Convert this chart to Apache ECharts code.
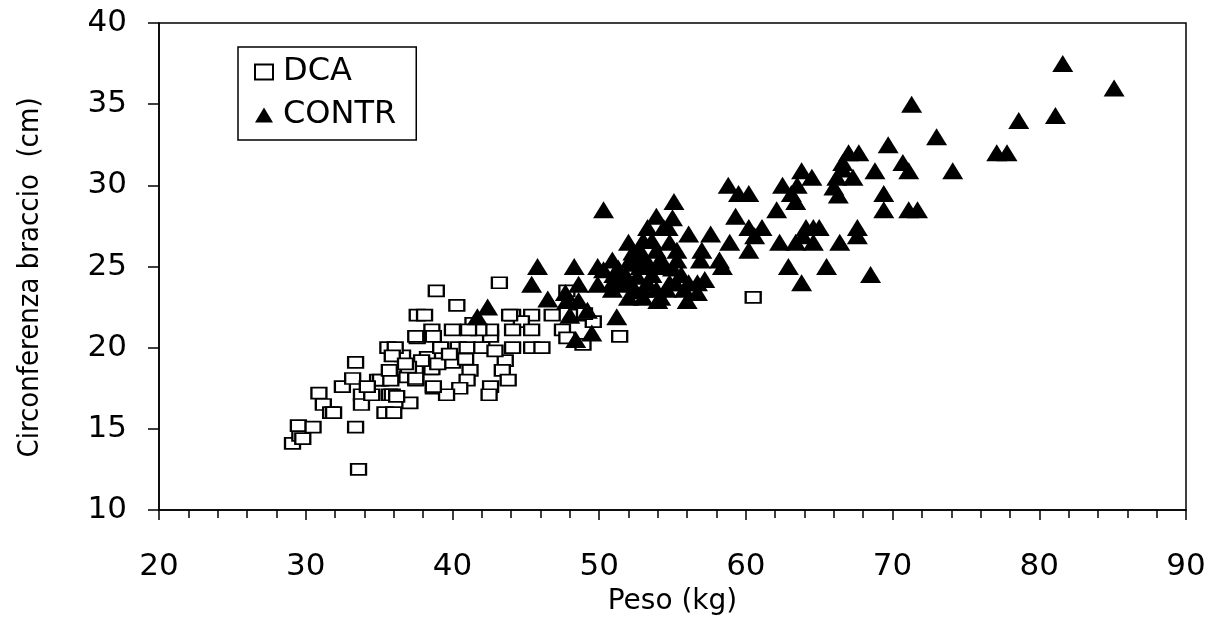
<!DOCTYPE html>
<html>
<head>
<meta charset="utf-8">
<script src="https://cdn.jsdelivr.net/npm/echarts@6/dist/echarts.min.js"></script>
<style>
  html, body { margin: 0; padding: 0; background: #fff; }
  #chart { width: 1221px; height: 624px; }
</style>
</head>
<body>
<div id="chart"></div>
<script>
  // DCA: peso (kg) / circonferenza braccio (cm)
  const dcaPeso = [
    29.1, 29.6, 29.5, 29.8, 30.5, 30.9, 31.2, 31.7, 31.9, 32.5, 33.2, 33.4, 33.8, 33.8, 33.4, 33.6,
    34.5, 34.9, 35.1, 35.8, 35.4, 35.7, 35.9, 35.6, 36.6, 35.7, 37.1, 36.9, 37.5, 37.6, 37.6, 38.1,
    38.5, 38.7, 38.6, 38.3, 38.9, 43.2, 40.3, 40.0, 37.5, 38.7, 39.2, 40.4, 41.0, 42.0, 42.6, 42.6,
    41.4, 44.1, 45.4, 44.7, 44.1, 45.4, 44.1, 45.4, 46.1, 43.6, 43.4, 43.8, 42.6, 42.5, 41.2, 41.0,
    40.5, 39.6, 38.7, 40.0, 38.6, 37.5, 36.2, 36.0, 37.9, 37.0, 41.8, 41.1, 43.9, 46.8, 47.8, 47.5,
    48.5, 49.6, 48.9, 51.4, 47.8, 49.0, 60.5, 36.1, 39.0, 35.9, 39.8, 40.9, 42.9, 36.8, 34.2,
  ];
  const dcaBraccio = [
    14.1, 14.6, 15.2, 14.4, 15.1, 17.2, 16.5, 16.0, 16.0, 17.6, 18.1, 19.1, 17.1, 16.5, 15.1, 12.5,
    17.1, 18.0, 18.0, 18.0, 16.0, 17.1, 17.1, 20.0, 19.5, 18.6, 16.6, 18.2, 18.0, 20.6, 22.0, 22.0,
    18.7, 17.5, 21.1, 19.4, 23.5, 24.0, 22.6, 21.1, 20.7, 20.7, 20.0, 20.0, 20.0, 20.0, 20.7, 21.1,
    21.5, 22.0, 22.0, 21.6, 21.1, 21.1, 20.0, 20.0, 20.0, 19.2, 18.6, 18.0, 17.6, 17.1, 18.6, 18.0,
    17.5, 17.1, 17.6, 19.1, 18.7, 18.1, 17.0, 16.0, 19.2, 18.8, 21.1, 21.1, 22.0, 22.0, 23.5, 21.1,
    22.0, 21.6, 20.2, 20.7, 20.6, 22.1, 23.1, 20.0, 19.0, 19.5, 19.6, 19.3, 19.8, 19.0, 17.6,
  ];

  // CONTR: peso (kg) / circonferenza braccio (cm)
  const contrPeso = [
    41.7, 42.4, 45.8, 45.4, 46.5, 47.7, 48.0, 47.8, 48.3, 48.6, 48.6, 48.4, 49.5, 49.9, 49.9, 50.3,
    50.9, 50.9, 50.9, 51.2, 51.3, 51.6, 52.0, 52.1, 52.3, 52.3, 52.6, 52.1, 52.0, 52.8, 53.0, 53.0,
    53.0, 53.3, 53.3, 53.3, 53.5, 53.9, 53.9, 53.9, 53.9, 54.2, 54.0, 54.4, 54.4, 54.7, 54.8, 55.0,
    55.0, 55.1, 55.3, 55.3, 55.2, 56.0, 56.1, 56.1, 56.7, 56.7, 56.9, 57.0, 57.6, 58.2, 58.4, 58.9,
    58.8, 59.3, 59.5, 60.2, 60.2, 60.2, 60.6, 61.1, 62.1, 62.3, 62.5, 62.9, 63.1, 63.4, 63.4, 63.5,
    63.8, 63.8, 63.9, 64.1, 64.5, 64.6, 64.6, 65.0, 65.5, 66.0, 66.2, 66.3, 66.4, 66.6, 66.6, 67.0,
    67.3, 67.7, 67.6, 67.6, 68.5, 68.8, 69.4, 69.4, 69.7, 70.7, 71.1, 71.1, 71.7, 71.3, 73.0, 74.1,
    77.1, 77.8, 78.6, 81.1, 81.6, 85.1, 52.5, 53.6, 54.6, 51.8, 52.8, 53.6, 54.2, 55.6, 53.0, 54.8,
    51.0, 50.3, 55.8, 57.2, 49.2,
  ];
  const contrBraccio = [
    21.9, 22.5, 25.0, 23.9, 23.0, 23.4, 22.0, 22.9, 25.0, 23.9, 22.9, 20.5, 20.9, 25.0, 23.9, 28.5,
    25.4, 24.0, 23.6, 21.9, 24.9, 23.9, 26.5, 25.4, 25.9, 25.2, 24.4, 24.0, 23.1, 25.0, 26.6, 23.1,
    23.6, 27.4, 25.0, 24.0, 25.0, 28.1, 26.0, 25.0, 23.6, 23.1, 22.9, 27.4, 25.0, 27.4, 24.0, 28.0,
    24.9, 29.0, 26.0, 25.4, 24.0, 22.9, 27.0, 24.0, 24.0, 23.4, 25.4, 26.0, 27.0, 25.4, 25.0, 26.5,
    30.0, 28.1, 29.5, 29.5, 27.4, 26.0, 26.9, 27.4, 28.5, 26.5, 30.0, 25.0, 29.5, 29.0, 26.5, 30.0,
    30.9, 24.0, 26.9, 27.4, 30.5, 27.4, 26.5, 27.4, 25.0, 29.9, 30.5, 29.4, 26.5, 31.4, 31.0, 32.0,
    30.5, 32.0, 27.4, 26.9, 24.5, 30.9, 29.5, 28.5, 32.5, 31.4, 30.9, 28.5, 28.5, 35.0, 33.0, 30.9,
    32.0, 32.0, 34.0, 34.3, 37.5, 36.0, 23.5, 24.5, 23.6, 24.5, 26.0, 26.6, 25.5, 24.5, 25.6, 26.5,
    24.5, 24.8, 23.6, 24.2, 22.3,
  ];

  const seriesNames = ['DCA', 'CONTR'];

  const pairs = (xs, ys) => xs.map((x, i) => [x, ys[i]]);

  const chart = echarts.init(document.getElementById('chart'));

  const tickFont = {
    color: '#000',
    fontFamily: 'DejaVu Sans, Verdana, sans-serif',
    fontSize: 31,
  };

  const option = {
    animation: false,
    backgroundColor: '#fff',
    grid: {
      left: 159,
      right: 35,
      top: 23,
      bottom: 114,
      show: true,
      borderColor: '#000',
      borderWidth: 1.5,
    },
    legend: {
      orient: 'vertical',
      left: 238,
      top: 47,
      padding: [9, 20, 9, 16],
      itemGap: 11,
      itemWidth: 18,
      itemHeight: 15,
      borderColor: '#000',
      borderWidth: 1.5,
      borderRadius: 0,
      backgroundColor: '#fff',
      textStyle: { ...tickFont, fontSize: 32, padding: [0, 0, 0, 5] },
      data: seriesNames,
    },
    xAxis: {
      type: 'value',
      min: 20,
      max: 90,
      interval: 10,
      name: 'Peso (kg)',
      nameLocation: 'middle',
      nameGap: 78,
      nameTextStyle: { ...tickFont, fontSize: 28 },
      axisLine: { onZero: false, lineStyle: { color: '#000', width: 1.5 } },
      axisTick: { inside: false, length: 10, lineStyle: { color: '#000', width: 1.5 } },
      minorTick: { show: true, splitNumber: 5, length: 8, lineStyle: { color: '#000', width: 1.5 } },
      axisLabel: { ...tickFont, margin: 41 },
      splitLine: { show: false },
    },
    yAxis: {
      type: 'value',
      min: 10,
      max: 40,
      interval: 5,
      name: 'Circonferenza braccio  (cm)',
      nameLocation: 'middle',
      nameGap: 114,
      nameTextStyle: {
        color: '#000',
        fontFamily: 'DejaVu Sans Condensed, Liberation Sans Narrow, sans-serif',
        fontSize: 29,
        padding: [0, 22, 0, 0],
      },
      axisLine: { onZero: false, lineStyle: { color: '#000', width: 1.5 } },
      axisTick: { length: 11, lineStyle: { color: '#000', width: 1.5 } },
      axisLabel: { ...tickFont, margin: 32 },
      splitLine: { show: false },
    },
    series: [
      {
        name: seriesNames[0],
        type: 'scatter',
        symbol: 'rect',
        symbolSize: [15, 11],
        itemStyle: { color: '#fff', borderColor: '#000', borderWidth: 2, opacity: 1 },
        data: pairs(dcaPeso, dcaBraccio),
      },
      {
        name: seriesNames[1],
        type: 'scatter',
        symbol: 'triangle',
        symbolSize: [21, 17],
        itemStyle: { color: '#000', opacity: 1 },
        data: pairs(contrPeso, contrBraccio),
      },
    ],
  };

  chart.setOption(option);
</script>
</body>
</html>
